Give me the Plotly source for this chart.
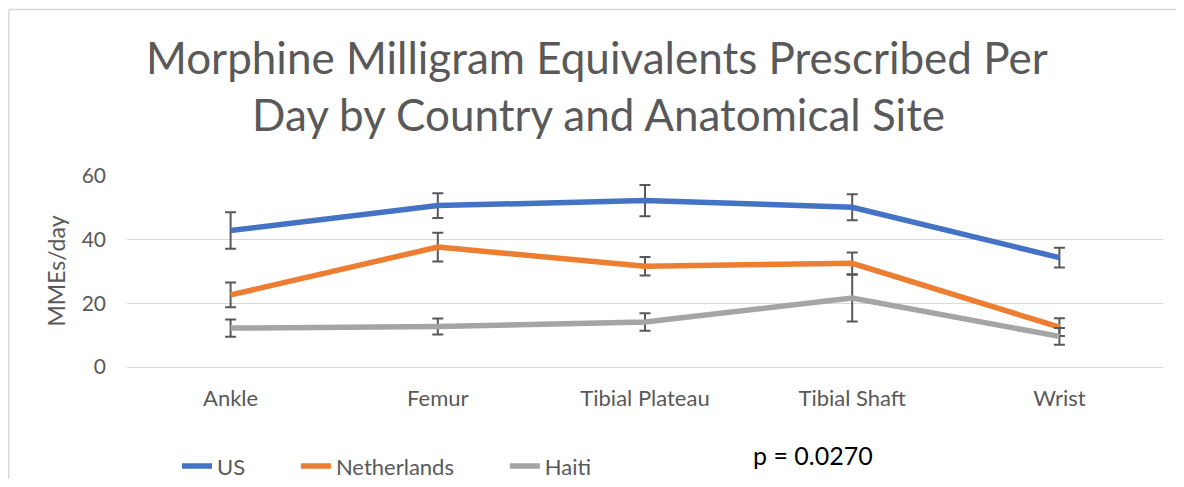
import plotly.graph_objects as go

categories = ["Ankle", "Femur", "Tibial Plateau", "Tibial Shaft", "Wrist"]

us_values = [42.8, 50.6, 52.2, 50.1, 34.3]
us_errors = [5.7, 3.9, 4.9, 4.1, 3.1]

nl_values = [22.6, 37.6, 31.6, 32.5, 12.5]
nl_errors = [3.9, 4.5, 2.9, 3.4, 2.8]

haiti_values = [12.2, 12.7, 14.1, 21.6, 9.6]
haiti_errors = [2.7, 2.5, 2.75, 7.3, 2.6]

y_ticks = [0, 20, 40, 60]

# page has an 8px body margin; figure sized to fit the 1184x487 window
OFF = 8
W, H = 1184 - 2 * OFF, 487 - 2 * OFF
# plot area in screen pixels
SL, SR, ST, SB = 127, 1163.5, 175, 367.5
L, R, T, B = SL - OFF, SR - OFF, ST - OFF, SB - OFF


def px(x):
    return (x - SL) / (SR - SL)


def py(y):
    return (SB - y) / (SB - ST)


FONT = "Lato"
GREY_TXT = "#595959"

series = [
    ("US", us_values, us_errors, "#4472C4", "legend", 177),
    ("Netherlands", nl_values, nl_errors, "#ED7D31", "legend2", 296),
    ("Haiti", haiti_values, haiti_errors, "#A5A5A5", "legend3", 505),
]

fig = go.Figure()
legend_layout = {}
for name, vals, errs, color, leg, lx in series:
    fig.add_trace(go.Scatter(
        x=categories, y=vals, name=name, mode="lines",
        line=dict(color=color, width=5.5),
        error_y=dict(type="data", array=errs, visible=True,
                     color="#595959", thickness=2, width=5.5),
        legend=leg,
    ))
    legend_layout[leg] = dict(orientation="h", x=px(lx), y=py(467),
                              xanchor="left", yanchor="middle",
                              font=dict(family=FONT, size=22, color=GREY_TXT),
                              bgcolor="rgba(0,0,0,0)", borderwidth=0)

fig.update_layout(
    width=W, height=H,
    margin=dict(l=L, r=W - R, t=T, b=H - B, pad=0, autoexpand=False),
    paper_bgcolor="white", plot_bgcolor="white",
    font=dict(family=FONT, color=GREY_TXT, size=20),
    showlegend=True,
    xaxis=dict(range=[-0.5, 4.5], showgrid=False, showline=False, zeroline=False,
               ticks="", tickfont=dict(family=FONT, size=22, color=GREY_TXT),
               ticklabelstandoff=16),
    yaxis=dict(range=[0, 60.2], tickvals=y_ticks, showgrid=True, gridcolor="#D9D9D9",
               gridwidth=1.3, zeroline=True, zerolinecolor="#D9D9D9", zerolinewidth=1.3,
               showline=False, ticks="", tickfont=dict(family=FONT, size=21, color=GREY_TXT),
               ticklabelstandoff=20,
               title=dict(text="MMEs/day", font=dict(family=FONT, size=23, color=GREY_TXT),
                          standoff=9)),
    annotations=[
        dict(text="Morphine Milligram Equivalents Prescribed Per", x=px(597.5), y=py(57),
             xref="paper", yref="paper", xanchor="center", yanchor="middle", showarrow=False,
             font=dict(family=FONT, size=44, color=GREY_TXT)),
        dict(text="Day by Country and Anatomical Site", x=px(598.5), y=py(114),
             xref="paper", yref="paper", xanchor="center", yanchor="middle", showarrow=False,
             font=dict(family=FONT, size=44, color=GREY_TXT)),
        dict(text="p = 0.0270", x=px(751), y=py(456),
             xref="paper", yref="paper", xanchor="left", yanchor="middle", showarrow=False,
             font=dict(family=FONT, size=25, color="black")),
    ],
    shapes=[
        dict(type="line", xref="paper", yref="paper", x0=px(8.75), x1=px(1200), y0=py(9), y1=py(9),
             line=dict(color="#D9D9D9", width=1.5), layer="below"),
        dict(type="line", xref="paper", yref="paper", x0=px(8.75), x1=px(8.75), y0=py(9), y1=py(495),
             line=dict(color="#D9D9D9", width=1.5), layer="below"),
    ],
    **legend_layout,
)

fig.write_html("out.html")
